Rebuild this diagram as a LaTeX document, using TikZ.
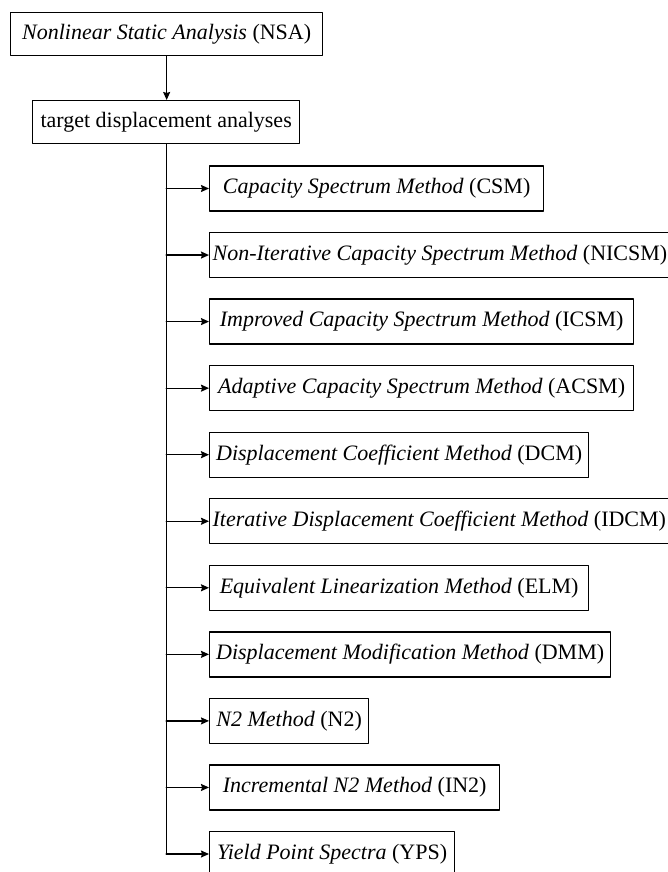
\documentclass[tikz,border=0pt]{standalone}
\usepackage{fontspec}
\setmainfont{Liberation Serif}
\usetikzlibrary{arrows.meta}
\begin{document}
\begin{tikzpicture}[x=1pt,y=-1pt,line cap=round,line join=round,line width=1.3pt,
	>={Stealth[length=8pt,width=7pt,inset=1pt]},font=\fontsize{22}{26}\selectfont,
	box/.style={draw,minimum height=45pt,inner xsep=3pt,inner ysep=0pt}]
	\useasboundingbox (0,0) rectangle (668,872);
	% top of the tree
	\node[box,anchor=north west,minimum width=312pt,minimum height=43pt] (NSA) at (10,12) {\textit{Nonlinear Static Analysis} (NSA)};
	\node[box,anchor=north west,minimum width=267pt,minimum height=43pt] (target) at (32,100) {target displacement analyses};
	\draw[->] (NSA.south) -- (NSA.south |- target.north);
	% methods
	\foreach \i/\abbr/\name/\w in {1/CSM/Capacity Spectrum Method/334,
		2/NICSM/Non-Iterative Capacity Spectrum Method/0,
		3/ICSM/Improved Capacity Spectrum Method/424,
		4/ACSM/Adaptive Capacity Spectrum Method/424,
		5/DCM/Displacement Coefficient Method/379,
		6/IDCM/Iterative Displacement Coefficient Method/0,
		7/ELM/Equivalent Linearization Method/379,
		8/DMM/Displacement Modification Method/401,
		9/N2/N2 Method/159,
		10/IN2/Incremental N2 Method/290,
		11/YPS/Yield Point Spectra/245}
	\node[box,anchor=west,minimum width=\w pt] (\abbr) at (209,{188.5+66.55*(\i-1)}) {\textit{\name} (\abbr)};
	\draw (target.south) -- (target.south |- YPS.west);
	\foreach \abbr in {CSM,NICSM,ICSM,ACSM,DCM,IDCM,ELM,DMM,N2,IN2,YPS}
	\draw[->] (target.south |- \abbr.west) -- (\abbr.west);
\end{tikzpicture}
\end{document}
